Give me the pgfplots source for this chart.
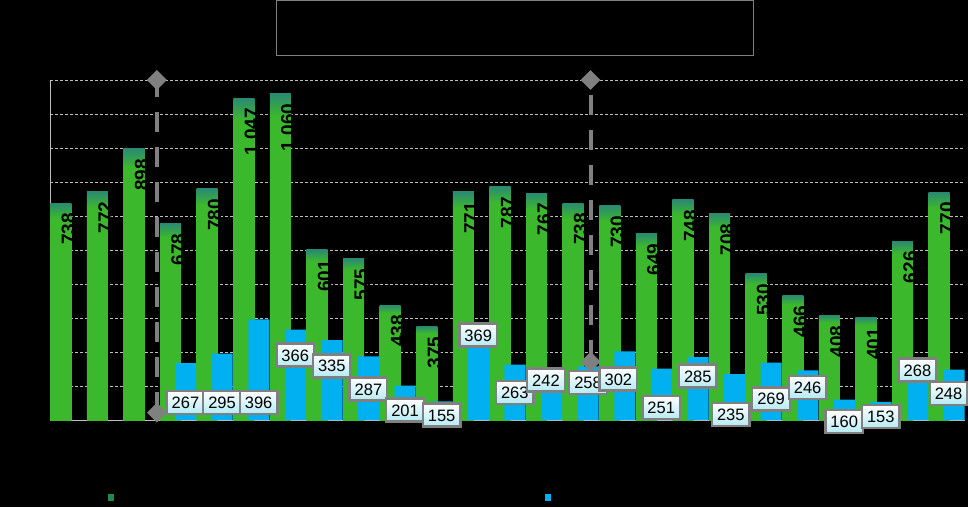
\documentclass[border=0pt]{standalone}
\usepackage{pgfplots}
\pgfplotsset{compat=1.18}
\usepackage{fontspec}
\setmainfont{Liberation Sans}

\definecolor{barG}{HTML}{3CB82C}
\definecolor{barT}{HTML}{2A8A72}
\definecolor{barB}{HTML}{00B0F0}
\definecolor{dashG}{HTML}{808080}
\definecolor{gridG}{HTML}{BFBFBF}
\definecolor{lblC}{HTML}{B4EAF2}
\definecolor{legG}{HTML}{1F8A4C}

\pgfdeclareverticalshading{greenbar}{100bp}{color(0bp)=(barG); color(25bp)=(barG); color(71.5bp)=(barG); color(75bp)=(barT); color(100bp)=(barT)}

\pgfplotstableread{
x y
1 738
2 772
3 898
4 678
5 780
6 1047
7 1060
8 601
9 575
10 438
11 375
12 771
13 787
14 767
15 738
16 730
17 649
18 748
19 708
20 530
21 466
22 408
23 401
24 626
25 770
}\greendata

\pgfplotstableread{
x y lx ly
4 267 4.2 151.5
5 295 5.2 151.5
6 396 6.2 151.5
7 366 7.2 291
8 335 8.2 259
9 287 9.2 191
10 201 10.2 129
11 155 11.2 114.7
12 369 12.2 350
13 263 13.2 181.5
14 242 14.05 217.6
15 258 15.2 209.7
16 302 16.03 220.6
17 251 17.2 136.2
18 285 18.2 229.4
19 235 19.1 115.6
20 269 20.2 161.8
21 246 21.2 196.2
22 160 22.2 95
23 153 23.2 109.7
24 268 24.2 247
25 248 25.05 178.5
}\bluedata

\begin{document}
\begin{tikzpicture}
\fill[black] (0pt,0pt) rectangle (968pt,507pt);
\draw[dashG, line width=0.8pt] (276pt,452pt) rectangle (753pt,506.3pt);
\begin{axis}[
    at={(50pt,87pt)}, anchor=south west,
    scale only axis, width=915pt, height=340pt,
    xmin=0.5, xmax=25.5, ymin=100, ymax=1100,
    axis lines*=left,
    axis line style={draw=gridG, line width=0.8pt, -},
    xtick=\empty,
    ytick={200,300,...,1100}, yticklabels={},
    major tick length=0pt,
    ymajorgrids=true,
    grid style={gridG, line width=0.6pt, dash pattern=on 3pt off 2pt},
    clip=false,
    legend columns=2,
    legend image code/.code={\fill[#1] (0pt,-4pt) rectangle (7pt,4pt);},
    legend style={at={(0.059,-0.2265)}, anchor=west, draw=none, fill=none,
        /tikz/every even column/.append style={column sep=425pt}},
]
% green bars, one plot per bar so that each gets its own top shading
\pgfplotsinvokeforeach{1,...,25}{
\addplot[ybar, bar width=0.575, bar shift=-0.205, draw=none, shading=greenbar,
    x filter/.expression={abs(x-#1)<0.1 ? x : nan},
    nodes near coords={\pgfmathprintnumber[assume math mode=true, 1000 sep={\ }]{\pgfplotspointmeta}},
    nodes near coords style={rotate=90, anchor=east, inner xsep=10pt, text=black,
        font=\bfseries\fontsize{19}{19}\selectfont},
    forget plot] table[x=x, y=y] {\greendata};
}
\addplot[ybar, bar width=0.575, bar shift=0.205, draw=none, fill=barB, forget plot]
    table[x=x, y=y] {\bluedata};
% dashed separators
\addplot[dashG, line width=4pt, dash pattern=on 20pt off 15pt, dash phase=2.6pt,
    mark=square*, mark size=5pt, mark options={solid, rotate=45, fill=dashG, draw=none},
    forget plot] coordinates {(3.42,1100) (3.42,121.5)};
\addplot[dashG, line width=4pt, dash pattern=on 20pt off 15pt, dash phase=20pt,
    mark=square*, mark size=5pt, mark options={solid, rotate=45, fill=dashG, draw=none},
    forget plot] coordinates {(15.27,1100) (15.27,271.5)};
% blue value labels
\addplot[only marks, mark=none, point meta=explicit,
    nodes near coords={\pgfmathprintnumber[assume math mode=true]{\pgfplotspointmeta}},
    nodes near coords style={anchor=center, draw=dashG, line width=2.4pt,
        top color=white, bottom color=lblC, text=black,
        font=\fontsize{16.5}{16.5}\selectfont,
        inner xsep=5pt, inner ysep=5.5pt, text height=12pt, text depth=0pt},
    forget plot] table[x=lx, y=ly, meta=y] {\bluedata};
\addlegendimage{fill=legG}
\addlegendentry{}
\addlegendimage{fill=barB}
\addlegendentry{}
\end{axis}
\pgfresetboundingbox
\useasboundingbox (0pt,0pt) rectangle (968pt,507pt);
\end{tikzpicture}
\end{document}
